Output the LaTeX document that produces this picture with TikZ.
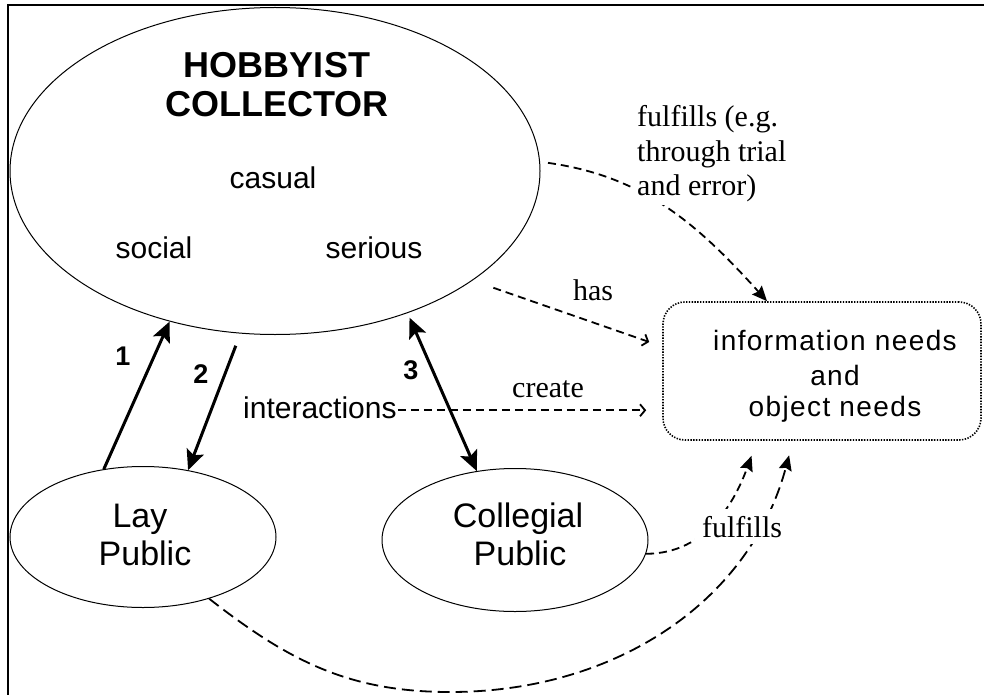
\documentclass[tikz,border=0pt]{standalone}
\usepackage{fontspec}
\setmainfont{Liberation Serif}
\setsansfont{Liberation Sans}
\newfontfamily\infofont[LetterSpace=5]{Liberation Sans}
\usetikzlibrary{shapes.geometric,arrows.meta,calc}
\begin{document}
\begin{tikzpicture}[x=1pt,y=-1pt,
  ell/.style={draw, ellipse, line width=1pt, inner sep=0pt},
  infobox/.style={draw, rounded corners=22pt, line width=1.6pt, dash pattern=on 1.4pt off 1.4pt, inner sep=0pt},
  sflab/.style={font=\sffamily\fontsize{30}{34}\selectfont, inner sep=0pt, anchor=base},
  bigsf/.style={font=\sffamily\fontsize{34}{38}\selectfont, inner sep=0pt, anchor=base},
  titlef/.style={font=\sffamily\bfseries\fontsize{36}{38}\selectfont, inner sep=0pt, anchor=base},
  numf/.style={font=\sffamily\bfseries\fontsize{27}{30}\selectfont, inner sep=0pt, anchor=base},
  serlab/.style={font=\fontsize{30}{34}\selectfont, inner sep=0pt, anchor=base},
  whitelab/.style={serlab, fill=white, inner sep=4pt},
  infof/.style={font=\infofont\fontsize{28}{32}\selectfont, inner sep=0pt, anchor=base},
  thickarrow/.style={line width=3pt, -{Stealth[length=20pt,width=18pt,inset=4pt]}},
  dblarrow/.style={line width=3pt, {Stealth[length=20pt,width=18pt,inset=4pt]}-{Stealth[length=20pt,width=18pt,inset=4pt]}},
  dashline/.style={line width=1.8pt, dash pattern=on 8pt off 5pt},
  longdash/.style={line width=1.8pt, dash pattern=on 12pt off 6pt},
  opentip/.style={-{Straight Barb[length=5pt,width=12pt]}},
  filltip/.style={-{Stealth[length=15pt,width=13pt,inset=2pt]}}
]
\useasboundingbox (0,0) rectangle (984,695);
\draw[line width=2pt] (8,695) -- (8,5) -- (984,5);

% shapes
\node[ell, minimum width=530pt, minimum height=327pt] (hc) at (275,171) {};
\node[ell, minimum width=266pt, minimum height=141pt] (lay) at (143,537) {};
\node[ell, minimum width=266pt, minimum height=143pt] (col) at (515,540) {};
\node[infobox, minimum width=318pt, minimum height=138pt] (box) at (822,371) {};

% texts
\node[titlef] (t1) at (277,78) {HOBBYIST};
\node[titlef] (t2) at (277,117) {COLLECTOR};
\node[sflab] (casual) at (273,188) {casual};
\node[sflab] (social) at (154,258) {social};
\node[sflab] (serious) at (374,258) {serious};
\node[bigsf] (lay1) at (140,527) {Lay};
\node[bigsf] (lay2) at (145,565) {Public};
\node[bigsf] (col1) at (518,527) {Collegial};
\node[bigsf] (col2) at (520,565) {Public};
\node[infof] (i1) at (835,350) {information needs};
\node[infof] (i2) at (835,385) {and};
\node[infof] (i3) at (835,416) {object needs};
\node[numf] (n1) at (123,365) {1};
\node[numf] (n2) at (201,383) {2};
\node[numf] (n3) at (411,379) {3};
\node[sflab, anchor=base west, inner sep=1pt] (inter) at (242,418) {interactions};
\node[serlab] (has) at (593,300) {has};
\node[serlab] (create) at (548,397) {create};

% connectors
\draw[thickarrow] (lay.120) -- (hc.235);
\draw[thickarrow, shorten <=13pt] (hc.258) -- (lay.56);
\draw[dblarrow, shorten <=5pt] (hc.313) -- (col.119);
\draw[dashline, opentip, shorten <=22pt] (hc.-29) -- ([xshift=-13pt,yshift=29pt]box.west);
\coordinate (ie) at ([yshift=-3pt]inter.east);
\draw[dashline, opentip, shorten >=16pt] (ie) -- (ie -| box.west);
\draw[dashline, filltip, shorten <=8pt] (hc.2) to[out=-8,in=132] ([xshift=-55pt]box.north);
\draw[dashline, filltip, shorten >=16pt] (col.-6) to[out=0,in=-110] ([xshift=-65pt]box.south);
\coordinate (lowpt) at (450,692);
\draw[longdash, filltip, shorten >=15pt] (lay.-43) to[out=-38,in=180] (lowpt) to[out=0,in=-105] ([xshift=-29pt]box.south);

% labels over curves
\node[whitelab, anchor=base west] (f1) at (633,127) {fulfills (e.g.};
\node[whitelab, anchor=base west] (f2) at (633,162) {through trial};
\node[whitelab, anchor=base west] (f3) at (633,195) {and error)};
\node[whitelab, inner sep=7pt] (f4) at (742,537) {fulfills};
\end{tikzpicture}
\end{document}
